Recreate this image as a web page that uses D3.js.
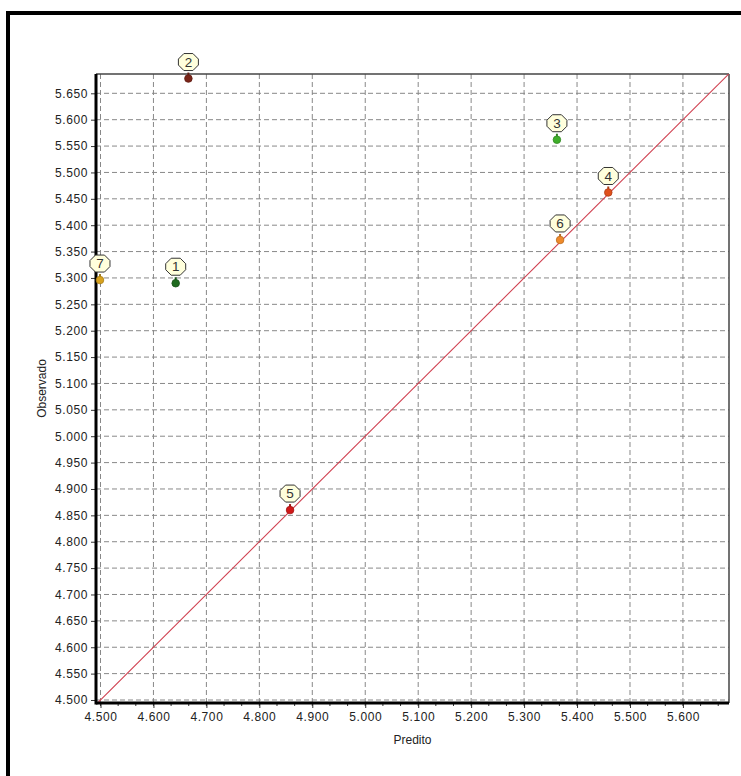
<!DOCTYPE html>
<html><head><meta charset="utf-8">
<script src="https://cdn.jsdelivr.net/npm/d3@7"></script>
<style>body{margin:0;background:#fff}svg{display:block}text{font-family:"Liberation Sans",Arial,sans-serif}</style>
</head><body>
<script>
const pointIds = ["1","2","3","4","5","6","7"];
const predito = [4.642, 4.666, 5.362, 5.459, 4.858, 5.368, 4.499];
const observado = [5.290, 5.678, 5.562, 5.462, 4.860, 5.372, 5.296];
const pointColors = ["#1f6b1f", "#7a2418", "#3fae2a", "#e0501c", "#d01818", "#ef8a2a", "#d8a21e"];
const xTicks = [4.5, 4.6, 4.7, 4.8, 4.9, 5.0, 5.1, 5.2, 5.3, 5.4, 5.5, 5.6];
const yTicks = d3.range(0, 24).map(i => +(4.5 + i * 0.05).toFixed(3));
const xDomain = [4.4915, 5.687];
const yDomain = [4.4943, 5.6866];
const xTitle = "Predito", yTitle = "Observado";

const W = 741, H = 776;
const L = 96, R = 729, T = 74, B = 703;
const svg = d3.select("body").append("svg").attr("width", W).attr("height", H);
svg.append("rect").attr("width", W).attr("height", H).attr("fill", "#fff");
svg.append("rect").attr("x", 8).attr("y", 13).attr("width", 900).attr("height", 900)
  .attr("fill", "none").attr("stroke", "#000").attr("stroke-width", 4);

const x = d3.scaleLinear().domain(xDomain).range([L, R]);
const y = d3.scaleLinear().domain(yDomain).range([B, T]);

// grid
const g = svg.append("g");
g.selectAll("line.vg").data(xTicks).join("line")
  .attr("x1", d => x(d)).attr("x2", d => x(d)).attr("y1", T).attr("y2", B)
  .attr("stroke", "#888").attr("stroke-width", 1).attr("stroke-dasharray", "5,3");
g.selectAll("line.hg").data(yTicks).join("line")
  .attr("y1", d => y(d)).attr("y2", d => y(d)).attr("x1", L).attr("x2", R)
  .attr("stroke", "#888").attr("stroke-width", 1).attr("stroke-dasharray", "5,3");

// frame top/right
svg.append("line").attr("x1", L).attr("x2", R).attr("y1", T).attr("y2", T).attr("stroke", "#444").attr("stroke-width", 1.5);
svg.append("line").attr("x1", R).attr("x2", R).attr("y1", T).attr("y2", B).attr("stroke", "#444").attr("stroke-width", 1.5);

// diagonal
svg.append("defs").append("clipPath").attr("id", "clip").append("rect")
  .attr("x", L).attr("y", T).attr("width", R - L).attr("height", B - T);
const lo = Math.min(xDomain[0], yDomain[0]), hi = Math.max(xDomain[1], yDomain[1]);
svg.append("line").attr("clip-path", "url(#clip)")
  .attr("x1", x(lo)).attr("y1", y(lo)).attr("x2", x(hi)).attr("y2", y(hi))
  .attr("stroke", "#d04050").attr("stroke-width", 1.1);

// axes
const minorX = d3.range(0, 36).map(i => 4.5 + i * 0.1 / 3).filter(v => v <= xDomain[1]);
const xAxis = d3.axisBottom(x).tickValues(xTicks).tickFormat(d3.format(".3f")).tickSizeOuter(0).tickSize(5).tickPadding(4);
const gx = svg.append("g").attr("transform", `translate(0,${B})`).call(xAxis);
gx.select(".domain").remove();
gx.selectAll("line").attr("stroke", "#333");
gx.selectAll("text").attr("font-size", 12).attr("letter-spacing", 0.6).attr("fill", "#222");
svg.append("g").selectAll("line").data(minorX).join("line")
  .attr("x1", d => x(d)).attr("x2", d => x(d)).attr("y1", B).attr("y2", B + 3).attr("stroke", "#333");

const yAxis = d3.axisLeft(y).tickValues(yTicks).tickFormat(d3.format(".3f")).tickSizeOuter(0).tickSize(5).tickPadding(3);
const gy = svg.append("g").attr("transform", `translate(${L},0)`).call(yAxis);
gy.select(".domain").remove();
gy.selectAll("line").attr("stroke", "#333");
gy.selectAll("text").attr("font-size", 12).attr("letter-spacing", 0.6).attr("fill", "#222");

svg.append("line").attr("x1", L).attr("x2", R).attr("y1", B).attr("y2", B).attr("stroke", "#000").attr("stroke-width", 3);
svg.append("line").attr("x1", L).attr("x2", L).attr("y1", T).attr("y2", B + 1.5).attr("stroke", "#000").attr("stroke-width", 3);

svg.append("text").attr("x", (L + R) / 2).attr("y", 744).attr("text-anchor", "middle")
  .attr("font-size", 12).attr("fill", "#222").text(xTitle);
svg.append("text").attr("transform", `translate(46,${(T + B) / 2}) rotate(-90)`).attr("text-anchor", "middle")
  .attr("font-size", 12).attr("fill", "#222").text(yTitle);

// points
const data = pointIds.map((id, i) => ({id, px: predito[i], py: observado[i], c: pointColors[i]}));
const pg = svg.append("g").selectAll("g").data(data).join("g")
  .attr("transform", d => `translate(${x(d.px)},${y(d.py)})`);
pg.append("line").attr("x1", 0).attr("x2", 0).attr("y1", -6).attr("y2", 0)
  .attr("stroke", d => d3.color(d.c).darker(0.8)).attr("stroke-width", 2);
pg.append("circle").attr("r", 3.8).attr("fill", d => d.c).attr("stroke", d => d3.color(d.c).darker(0.7)).attr("stroke-width", 0.8);
const oct = (cx, cy, w, h, c) => {
  const hw = w / 2, hh = h / 2;
  return [[cx - hw + c, cy - hh], [cx + hw - c, cy - hh], [cx + hw, cy - hh + c], [cx + hw, cy + hh - c],
    [cx + hw - c, cy + hh], [cx - hw + c, cy + hh], [cx - hw, cy + hh - c], [cx - hw, cy - hh + c]]
    .map(p => p.join(",")).join(" ");
};
pg.append("polygon").attr("points", oct(0, -16.5, 20, 17, 5.5))
  .attr("fill", "#ffffdc").attr("stroke", "#333").attr("stroke-width", 1);
pg.append("text").attr("x", 0).attr("y", -11.8).attr("text-anchor", "middle")
  .attr("font-size", 13.5).attr("fill", "#333").text(d => d.id);
</script>
</body></html>
